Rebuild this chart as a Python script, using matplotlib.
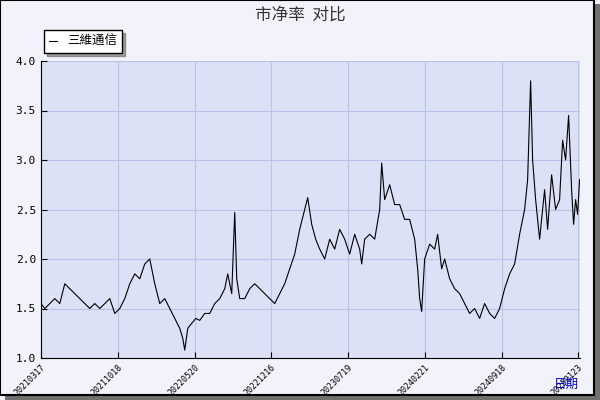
import matplotlib.pyplot as plt
from matplotlib.patches import Rectangle

plt.rcParams['font.family'] = ['Noto Sans CJK SC', 'DejaVu Sans']

# trading-day offsets (scaled) and price-to-book values
day = [0, 4, 9, 14, 19, 24, 29, 34, 39, 44, 49, 54, 59, 64, 69, 74, 79, 84, 89, 94,
       99, 104, 109, 112, 114, 119, 124, 129, 134, 139, 142, 144, 147, 151, 155, 159,
       164, 169, 174, 179, 184, 187, 191, 194, 196, 199, 204, 209, 214, 219, 224, 229,
       234, 239, 244, 249, 254, 259, 264, 267, 271, 275, 279, 284, 289, 294, 299, 304,
       309, 314, 319, 321, 324, 329, 334, 339, 341, 344, 349, 354, 359, 364, 369, 374,
       377, 379, 381, 384, 389, 394, 397, 401, 404, 409, 414, 419, 424, 429, 434, 439,
       444, 449, 454, 459, 464, 469, 474, 479, 484, 487, 490, 492, 495, 499, 504, 507,
       511, 515, 519, 522, 525, 528, 531, 533, 535, 537, 539]
pb = [1.55, 1.5, 1.55, 1.6, 1.55, 1.75, 1.7, 1.65, 1.6, 1.55, 1.5, 1.55, 1.5, 1.55,
      1.6, 1.45, 1.5, 1.6, 1.75, 1.85, 1.8, 1.95, 2.0, 1.85, 1.75, 1.55, 1.6, 1.5,
      1.4, 1.3, 1.2, 1.08, 1.3, 1.35, 1.4, 1.38, 1.45, 1.45, 1.55, 1.6, 1.7, 1.85,
      1.65, 2.47, 1.8, 1.6, 1.6, 1.7, 1.75, 1.7, 1.65, 1.6, 1.55, 1.65, 1.75, 1.9,
      2.05, 2.3, 2.5, 2.62, 2.35, 2.2, 2.1, 2.0, 2.2, 2.1, 2.3, 2.2, 2.05, 2.25, 2.1,
      1.95, 2.2, 2.25, 2.2, 2.5, 2.97, 2.6, 2.75, 2.55, 2.55, 2.4, 2.4, 2.2, 1.9, 1.6,
      1.47, 2.0, 2.15, 2.1, 2.25, 1.9, 2.0, 1.8, 1.7, 1.65, 1.55, 1.45, 1.5, 1.4, 1.55,
      1.45, 1.4, 1.5, 1.7, 1.85, 1.95, 2.25, 2.5, 2.8, 3.8, 3.0, 2.6, 2.2, 2.7, 2.3,
      2.85, 2.5, 2.6, 3.2, 3.0, 3.45, 2.7, 2.35, 2.6, 2.45, 2.8]
tick_days = [0, 77, 154, 230, 307, 384, 461, 537]
tick_labels = ['20210317', '20211018', '20220520', '20221216',
               '20230719', '20240221', '20240918', '20250123']

fig = plt.figure(figsize=(6, 4), dpi=100, facecolor='#f2f2fa')
# outer frame with shadow
fig.patches.append(Rectangle((0.008, 0.0), 0.992, 0.99, transform=fig.transFigure,
                             facecolor='#707070', edgecolor='none', zorder=-2))
fig.patches.append(Rectangle((0.0, 0.012), 0.99, 0.988, transform=fig.transFigure,
                             facecolor='#f2f2fa', edgecolor='black', lw=1.5, zorder=-1))

ax = fig.add_axes([0.068, 0.105, 0.898, 0.7425])
ax.set_facecolor('#dce1f6')
ax.plot(day, pb, color='black', lw=0.8, label='三維通信')
ax.set_xlim(0, 539)
ax.set_ylim(1.0, 4.0)
ax.set_yticks([1.0, 1.5, 2.0, 2.5, 3.0, 3.5, 4.0])
ax.set_yticklabels(['%.1f' % v for v in ax.get_yticks()], family='DejaVu Sans Mono', fontsize=8)
ax.set_xticks(tick_days)
ax.set_xticklabels(tick_labels, rotation=45, ha='right', rotation_mode='anchor',
                   fontsize=6, family='DejaVu Sans Mono')
ax.grid(True, color='#b8c4ea', lw=0.8)
for s in ['top', 'right']:
    ax.spines[s].set_visible(False)
ax.tick_params(direction='in', length=4)

fig.text(0.5, 0.963, '市净率  对比', ha='center', va='center', fontsize=12, color='#333333')
fig.text(0.965, 0.04, '日期', ha='right', va='center', fontsize=9, color='#0000cc')
ax.legend(loc='lower left', bbox_to_anchor=(-0.005, 1.005), fontsize=9, fancybox=False,
          shadow=True, edgecolor='black', framealpha=1, handlelength=0.6)

fig.savefig('out.png', facecolor=fig.get_facecolor())
